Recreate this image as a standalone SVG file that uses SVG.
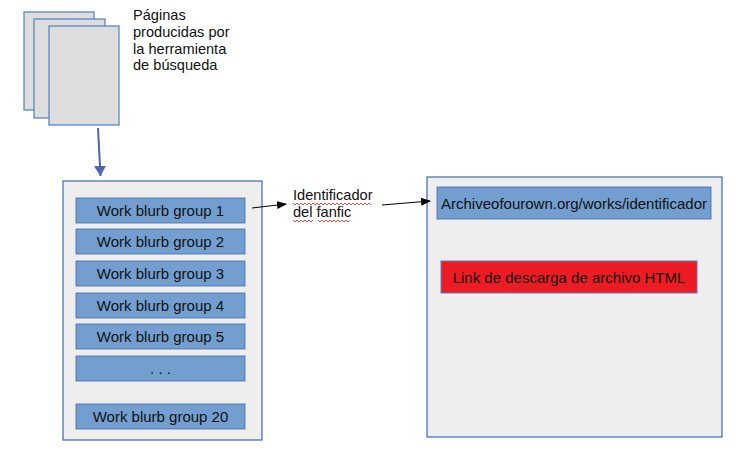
<svg xmlns="http://www.w3.org/2000/svg" width="745" height="474" viewBox="0 0 745 474">
<defs>
<style>
text{font-family:"Liberation Sans",Arial,sans-serif;font-size:14.6px;fill:#111}
.page{fill:#dddddd;stroke:#4f7fbf;stroke-width:1.2}
.cont{fill:#eeeeee;stroke:#3f6aa8;stroke-width:1.2}
.blurb{fill:#729fcf;stroke:#3f6aa8;stroke-width:0.8}
.red{fill:#ed1c24;stroke:#5b7fbf;stroke-width:1}
.c{text-anchor:middle}
.b{font-size:15px}
.wave{fill:none;stroke:#e02020;stroke-width:0.8}
</style>
<marker id="ah" markerWidth="10" markerHeight="8" refX="9" refY="4" orient="auto" markerUnits="userSpaceOnUse">
<path d="M0,0 L10,4 L0,8 z" fill="#000"/>
</marker>
<marker id="ahb" markerWidth="10" markerHeight="12" refX="10" refY="6" orient="auto" markerUnits="userSpaceOnUse">
<path d="M0,0 L10,6 L0,12 z" fill="#4f63b5"/>
</marker>
</defs>
<g id="pages">
<rect class="page" x="24" y="12" width="70" height="98"/>
<rect class="page" x="34" y="19" width="71" height="99"/>
<rect class="page" x="49" y="26" width="70" height="99"/>
<text x="133" y="20">Páginas</text>
<text x="133" y="37">producidas por</text>
<text x="133" y="54">la herramienta</text>
<text x="133" y="70">de búsqueda</text>
</g>
<g id="left-container">
<rect class="cont" x="63" y="181" width="199" height="259"/>
</g>
<g id="blurb1"><rect class="blurb" x="76" y="198" width="169" height="25"/><text class="c b" x="160.5" y="215.5">Work blurb group 1</text></g>
<g id="blurb2"><rect class="blurb" x="76" y="229" width="169" height="25"/><text class="c b" x="160.5" y="246.5">Work blurb group 2</text></g>
<g id="blurb3"><rect class="blurb" x="76" y="261" width="169" height="25"/><text class="c b" x="160.5" y="278.5">Work blurb group 3</text></g>
<g id="blurb4"><rect class="blurb" x="76" y="293" width="169" height="25"/><text class="c b" x="160.5" y="310.5">Work blurb group 4</text></g>
<g id="blurb5"><rect class="blurb" x="76" y="324" width="169" height="25"/><text class="c b" x="160.5" y="341.5">Work blurb group 5</text></g>
<g id="blurb-dots"><rect class="blurb" x="76" y="356" width="169" height="25"/><text class="c b" x="160.5" y="373.5">. . .</text></g>
<g id="blurb20"><rect class="blurb" x="76" y="404" width="169" height="25"/><text class="c b" x="160.5" y="421.5">Work blurb group 20</text></g>
<g id="label-id">
<text x="293" y="200">Identificador</text>
<text x="293" y="217">del fanfic</text>
<path class="wave" d="M293,203 l2,2 l2,-2 l2,2 l2,-2 l2,2 l2,-2 l2,2 l2,-2 l2,2 l2,-2 l2,2 l2,-2 l2,2 l2,-2 l2,2 l2,-2 l2,2 l2,-2 l2,2 l2,-2 l2,2 l2,-2 l2,2 l2,-2 l2,2 l2,-2 l2,2 l2,-2 l2,2 l2,-2 l2,2 l2,-2 l2,2 l2,-2 l2,2 l2,-2 l2,2 l2,-2 l2,2"/>
<path class="wave" d="M293,220 l2,2 l2,-2 l2,2 l2,-2 l2,2 l2,-2 l2,2 l2,-2 l2,2 l2,-2"/>
<path class="wave" d="M318,220 l2,2 l2,-2 l2,2 l2,-2 l2,2 l2,-2 l2,2 l2,-2 l2,2 l2,-2 l2,2 l2,-2 l2,2 l2,-2 l2,2 l2,-2"/>
</g>
<g id="right-container">
<rect class="cont" x="427" y="177" width="295" height="260"/>
</g>
<g id="archive-url"><rect class="blurb" x="437" y="187" width="274" height="32"/><text class="c b" x="574" y="208.5">Archiveofourown.org/works/identificador</text></g>
<g id="download-link"><rect class="red" x="441" y="261" width="256" height="32"/><text class="c b" x="569" y="282.5">Link de descarga de archivo HTML</text>
<path class="wave" d="M508,287 l2,2 l2,-2 l2,2 l2,-2 l2,2 l2,-2 l2,2 l2,-2 l2,2 l2,-2 l2,2 l2,-2 l2,2 l2,-2 l2,2 l2,-2 l2,2 l2,-2 l2,2 l2,-2 l2,2 l2,-2 l2,2 l2,-2 l2,2 l2,-2 l2,2"/>
<path class="wave" d="M593,287 l2,2 l2,-2 l2,2 l2,-2 l2,2 l2,-2 l2,2 l2,-2 l2,2 l2,-2 l2,2 l2,-2 l2,2 l2,-2 l2,2 l2,-2 l2,2 l2,-2 l2,2 l2,-2 l2,2"/>
</g>
<g id="connectors">
<line x1="98" y1="128" x2="100.5" y2="176" stroke="#4f63b5" stroke-width="2" marker-end="url(#ahb)"/>
<line x1="252" y1="208" x2="286" y2="204" stroke="#000" stroke-width="1" marker-end="url(#ah)"/>
<line x1="382" y1="205" x2="430" y2="201" stroke="#000" stroke-width="1" marker-end="url(#ah)"/>
</g>
</svg>
